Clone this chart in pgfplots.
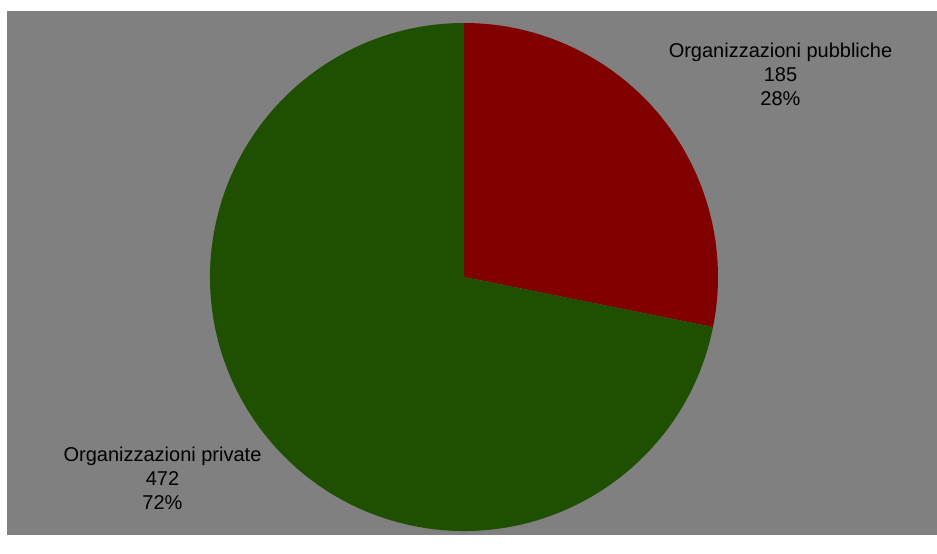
\documentclass[border=0pt]{standalone}
\usepackage{pgfplots}
\pgfplotsset{compat=1.18}
\usepackage{fontspec}
\setmainfont{Liberation Sans}
\definecolor{bg}{HTML}{808080}
\definecolor{redslice}{HTML}{800000}
\definecolor{greenslice}{HTML}{1F4F00}
\begin{document}
\begin{tikzpicture}
\def\va{185}
\def\vb{472}
\pgfmathsetmacro\fracA{\va/(\va+\vb)}
\pgfmathsetmacro\angA{360*\fracA}
\pgfmathsetmacro\endA{90-\angA}
\begin{axis}[
  scale only axis, width=937bp, height=535bp,
  xmin=0, xmax=937, ymin=0, ymax=535, y dir=reverse,
  axis lines=none, clip=false,
]
\fill[white] (axis cs:0,0) rectangle (axis cs:937,535);
\fill[bg] (axis cs:7,11) rectangle (axis cs:937,535);
\fill[redslice] (axis cs:464,277) -- ++(90:254bp) arc[start angle=90, end angle=\endA, radius=254bp] -- cycle;
\fill[greenslice] (axis cs:464,277) -- ++(\endA:254bp) arc[start angle=\endA, end angle=-270, radius=254bp] -- cycle;
\node[align=center, font=\fontsize{20bp}{24bp}\selectfont, text=black] at (axis cs:780.5,74) {Organizzazioni pubbliche\\185\\28\%};
\node[align=center, font=\fontsize{20bp}{24bp}\selectfont, text=black] at (axis cs:162.5,478) {Organizzazioni private\\472\\72\%};
\end{axis}
\end{tikzpicture}
\end{document}
